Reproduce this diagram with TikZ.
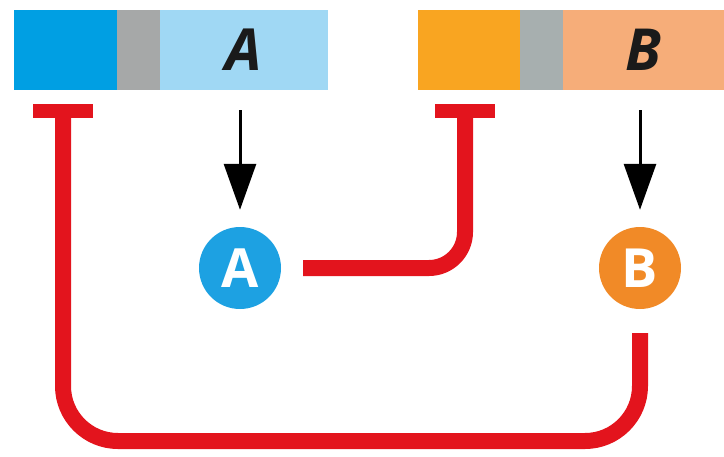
\documentclass[tikz,border=0pt]{standalone}
\usepackage{fontspec}
\setsansfont{Open Sans}
\usetikzlibrary{arrows.meta,positioning}

\definecolor{blueDark}{HTML}{009FE3}
\definecolor{blueLight}{HTML}{A0D8F4}
\definecolor{grayA}{HTML}{A6A8A8}
\definecolor{grayB}{HTML}{A7AFAF}
\definecolor{orangeDark}{HTML}{F9A521}
\definecolor{orangeLight}{HTML}{F6AD79}
\definecolor{circA}{HTML}{1DA1E2}
\definecolor{circB}{HTML}{F18A27}
\definecolor{linkRed}{HTML}{E3141D}
\definecolor{inkDark}{HTML}{1A1A1A}

\begin{document}
\begin{tikzpicture}[
  x=1pt, y=-1pt,
  seg/.style={rectangle, fill=#1, inner sep=0pt, outer sep=0pt,
    minimum height=80pt, font=\sffamily\bfseries\itshape\fontsize{58}{58}\selectfont,
    text=inkDark},
  badge/.style={circle, fill=#1, minimum size=82pt, inner sep=0pt,
    font=\sffamily\bfseries\fontsize{54}{54}\selectfont, text=white},
  tbar/.style={rectangle, fill=linkRed, minimum width=60pt, minimum height=14pt,
    inner sep=0pt, outer sep=0pt},
  flow/.style={-{Triangle[length=46pt, width=32pt]}, line width=3pt, black},
  link/.style={line width=16pt, linkRed}
]
\useasboundingbox (0,0) rectangle (724,456);

% upper bars
\node[seg=blueDark, minimum width=103pt, anchor=north west] (a1) at (14,10) {};
\node[seg=grayA,     minimum width=43pt,  right=0pt of a1] (a2) {};
\node[seg=blueLight, minimum width=168pt, right=0pt of a2] (a3) {A};

\node[seg=orangeDark,  minimum width=102pt, anchor=north west] (b1) at (418,10) {};
\node[seg=grayB,       minimum width=43pt,  right=0pt of b1] (b2) {};
\node[seg=orangeLight, minimum width=161pt, right=0pt of b2] (b3) {B};

% badges
\node[badge=circA] (cA) at (240,268) {A};
\node[badge=circB] (cB) at (640,268) {B};

\draw[flow, shorten <=20pt, shorten >=17pt] (a3.south -| cA) -- (cA.north);
\draw[flow, shorten <=20pt, shorten >=17pt] (b3.south -| cB) -- (cB.north);

% inhibition links
\coordinate (bottom) at (0,441);
\node[tbar] (tA) at (63,111) {};
\node[tbar] (tB) at (465,111) {};

\draw[link, rounded corners=36pt, shorten <=22pt] (cA.east) -| (tB.south);
\draw[link, rounded corners=55pt, shorten <=24pt] (cB.south) |- (tA |- bottom) -- (tA.south);
\end{tikzpicture}
\end{document}
